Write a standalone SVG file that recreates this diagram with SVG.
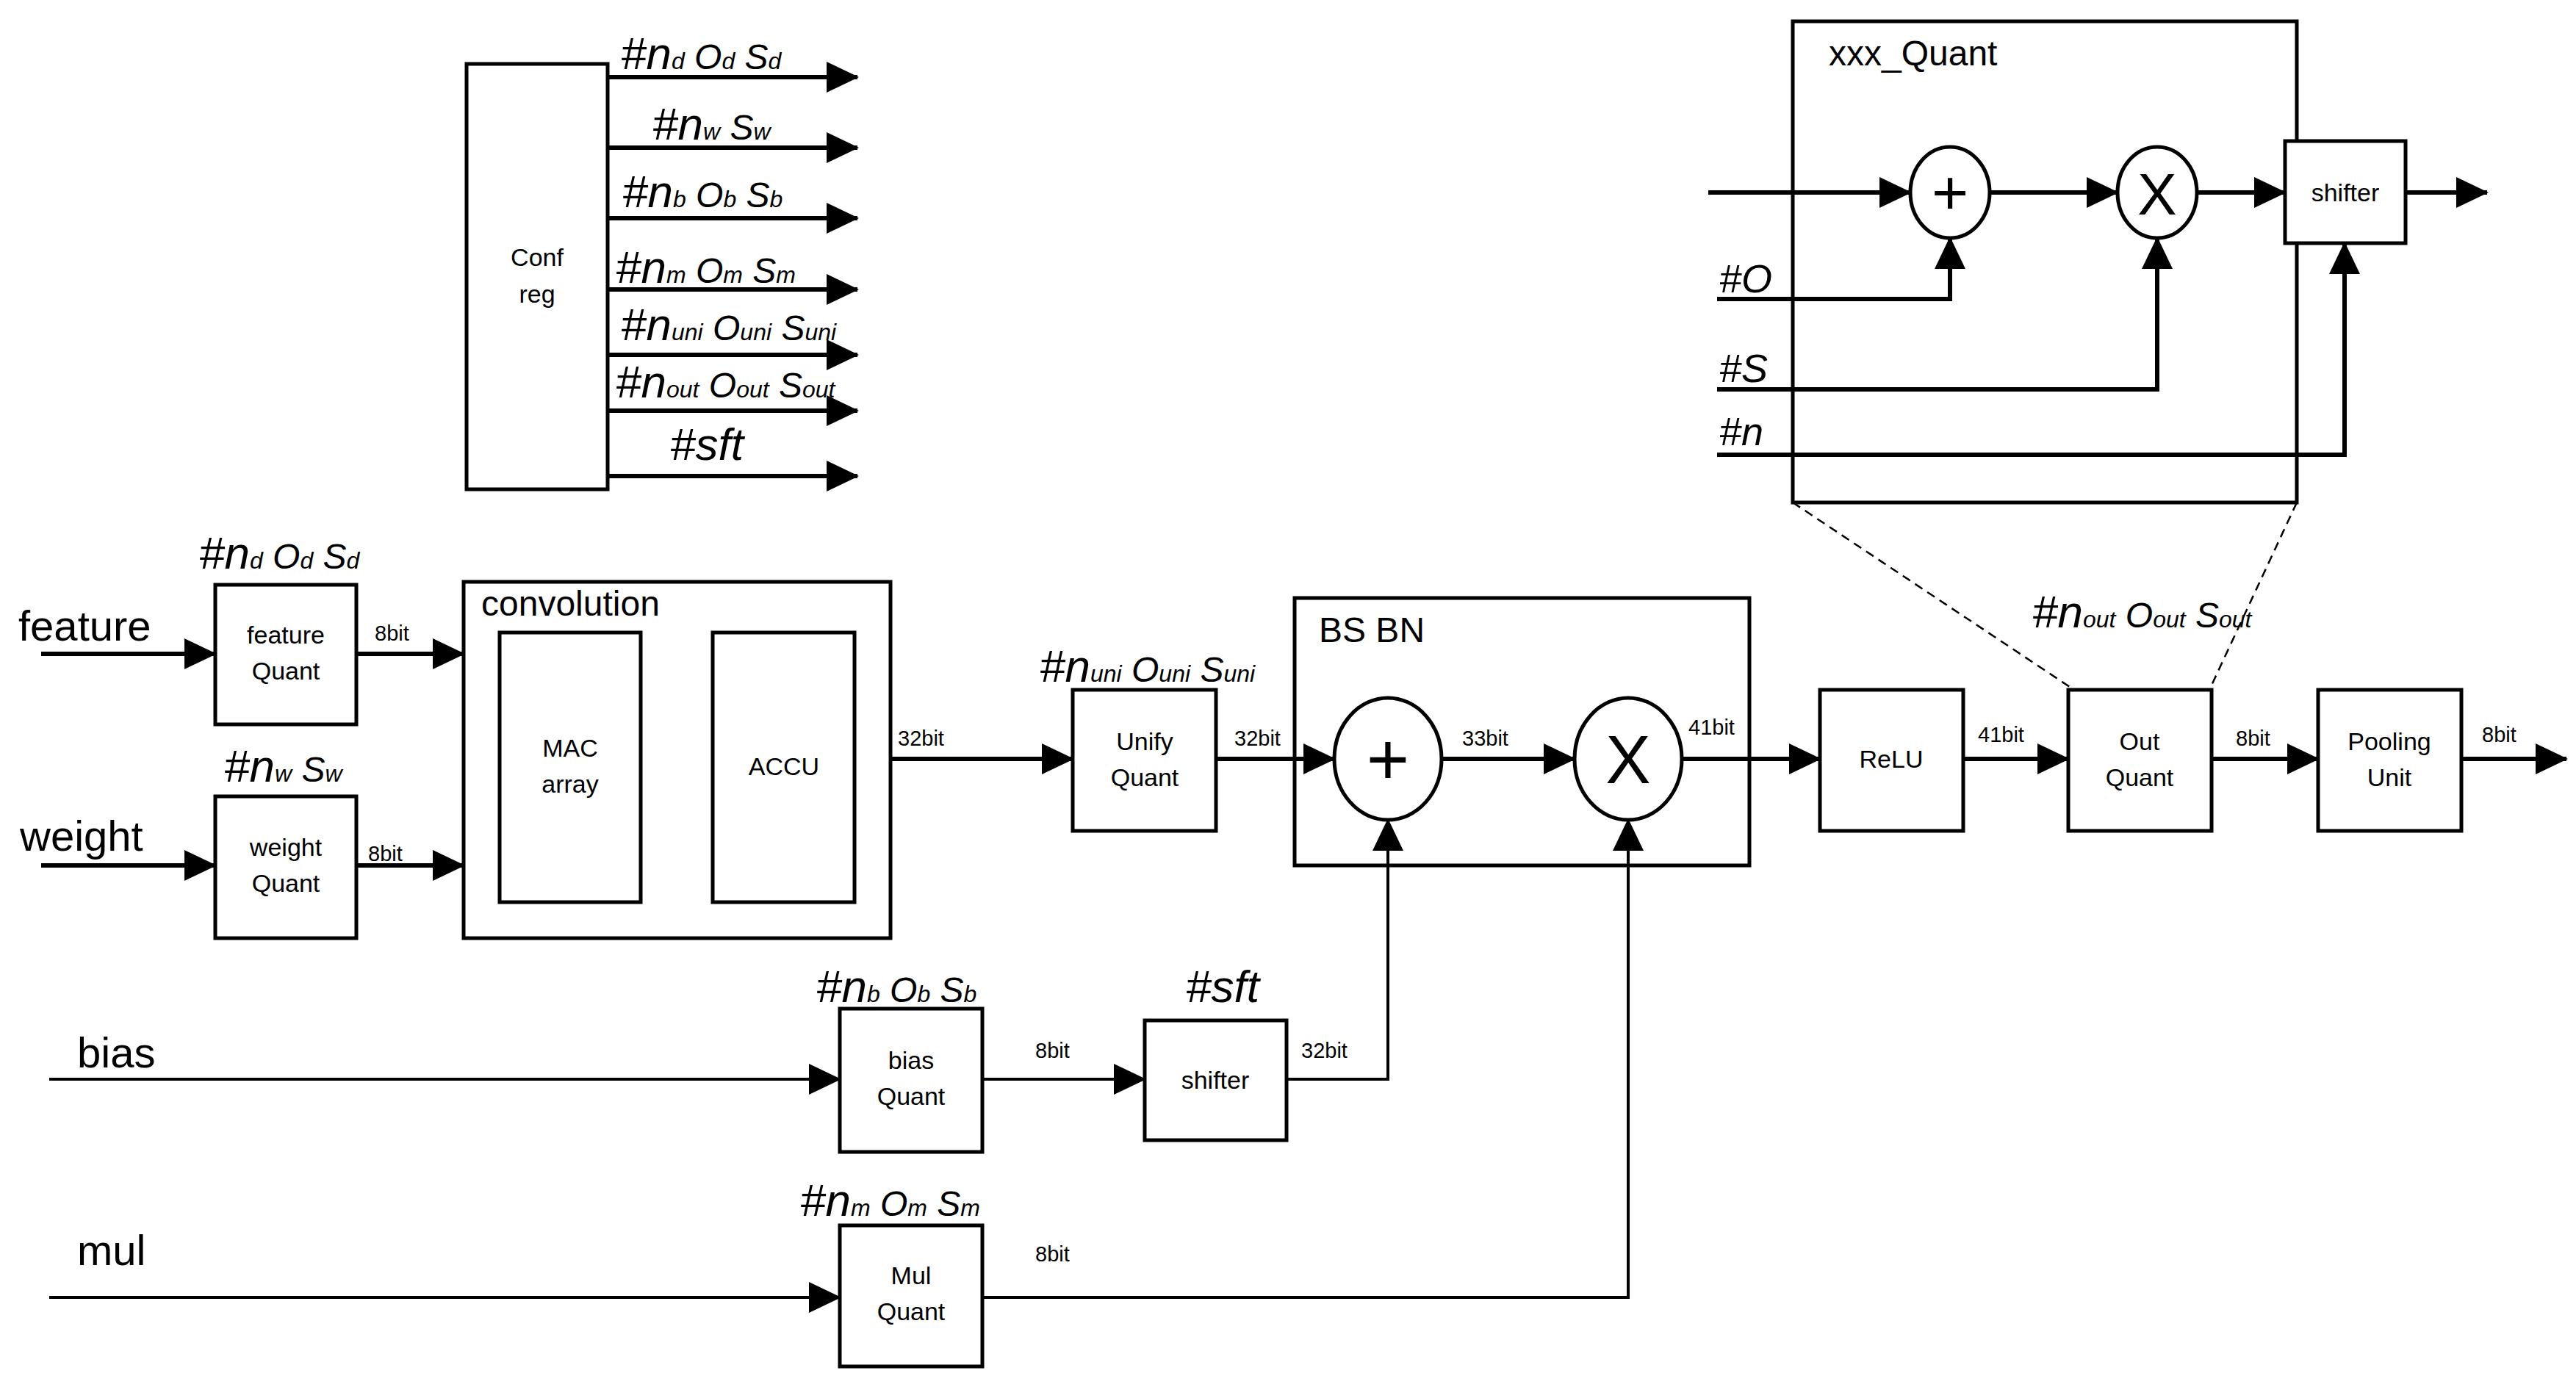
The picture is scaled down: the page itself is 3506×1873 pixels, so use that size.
<svg xmlns="http://www.w3.org/2000/svg" width="3506" height="1873" viewBox="0 0 3506 1873">
<style>
text{font-family:"Liberation Sans",Arial,sans-serif;fill:#000}
.box{fill:#fff;stroke:#000;stroke-width:5}
.frame{fill:none;stroke:#000;stroke-width:5}
.c{fill:none;stroke:#000;stroke-width:6}
.t{fill:none;stroke:#000;stroke-width:4}
.a{marker-end:url(#ah)}
.lab{font-style:italic}
.n{font-size:62px}.o{font-size:48px}.s{font-size:32px}
.m{font-size:34px;text-anchor:middle}
.bit{font-size:29px}
.big{font-size:58px}
.hd{font-size:48px}
</style>
<defs>
<marker id="ah" markerUnits="userSpaceOnUse" markerWidth="44" markerHeight="44" refX="42" refY="21" orient="auto" viewBox="0 0 44 42"><path d="M0,0 L44,21 L0,42 z" fill="#000"/></marker>
</defs>

<g id="bsbn">
<rect class="frame" x="1762" y="814" width="619" height="364"/>
<text class="hd" x="1795" y="874">BS BN</text>
</g>
<g id="xxxquant-frame">
<rect class="frame" x="2440" y="29" width="686" height="655"/>
<text class="hd" x="2489" y="89">xxx_Quant</text>
</g>

<g id="connectors">
<path class="c a" d="M827,105 H1167"/>
<path class="c a" d="M827,201 H1167"/>
<path class="c a" d="M827,297 H1167"/>
<path class="c a" d="M827,394 H1167"/>
<path class="c a" d="M827,483 H1167"/>
<path class="c a" d="M827,559 H1167"/>
<path class="c a" d="M827,648 H1167"/>
<path class="c a" d="M2325,262 H2600"/>
<path class="c a" d="M2708,262 H2882"/>
<path class="c a" d="M2990,262 H3110"/>
<path class="c a" d="M3274,262 H3385"/>
<path class="c a" d="M2337,407 H2654 V324"/>
<path class="c a" d="M2337,530 H2936 V324"/>
<path class="c a" d="M2337,619 H3191 V331"/>
<path d="M2440,684 L2820,937 M3126,684 L3008,937" fill="none" stroke="#000" stroke-width="2.5" stroke-dasharray="12,8"/>
<path class="c a" d="M56,890 H293"/>
<path class="c a" d="M56,1178 H293"/>
<path class="c a" d="M485,890 H631"/>
<path class="c a" d="M485,1178 H631"/>
<path class="c a" d="M1212,1033 H1460"/>
<path class="c a" d="M1655,1033 H1816"/>
<path class="c a" d="M1962,1033 H2143"/>
<path class="c a" d="M2289,1033 H2477"/>
<path class="c a" d="M2672,1033 H2815"/>
<path class="c a" d="M3010,1033 H3155"/>
<path class="c a" d="M3350,1033 H3493"/>
<path class="t a" d="M67,1469 H1143"/>
<path class="t a" d="M1337,1469 H1558"/>
<path class="t a" d="M1751,1469 H1889 V1116"/>
<path class="t a" d="M67,1766 H1143"/>
<path class="t a" d="M1337,1766 H2216 V1116"/>
</g>

<g id="confreg">
<rect class="box" x="635" y="87" width="192" height="579"/>
<text class="m" x="731" y="362">Conf</text>
<text class="m" x="731" y="412">reg</text>
</g>
<g id="conf-labels" class="lab">
<text x="845" y="94"><tspan class="n">#n</tspan><tspan class="s">d</tspan><tspan class="o"> O</tspan><tspan class="s">d</tspan><tspan class="o"> S</tspan><tspan class="s">d</tspan></text>
<text x="888" y="190"><tspan class="n">#n</tspan><tspan class="s">w</tspan><tspan class="o"> S</tspan><tspan class="s">w</tspan></text>
<text x="847" y="282"><tspan class="n">#n</tspan><tspan class="s">b</tspan><tspan class="o"> O</tspan><tspan class="s">b</tspan><tspan class="o"> S</tspan><tspan class="s">b</tspan></text>
<text x="838" y="385"><tspan class="n">#n</tspan><tspan class="s">m</tspan><tspan class="o"> O</tspan><tspan class="s">m</tspan><tspan class="o"> S</tspan><tspan class="s">m</tspan></text>
<text x="845" y="463"><tspan class="n">#n</tspan><tspan class="s">uni</tspan><tspan class="o"> O</tspan><tspan class="s">uni</tspan><tspan class="o"> S</tspan><tspan class="s">uni</tspan></text>
<text x="838" y="541"><tspan class="n">#n</tspan><tspan class="s">out</tspan><tspan class="o"> O</tspan><tspan class="s">out</tspan><tspan class="o"> S</tspan><tspan class="s">out</tspan></text>
<text x="912" y="626" class="n">#sft</text>
</g>

<g id="xxxquant">
<ellipse class="box" cx="2654" cy="262" rx="54" ry="62"/>
<text x="2654" y="292" font-size="86" text-anchor="middle">+</text>
<ellipse class="box" cx="2936" cy="262" rx="54" ry="62"/>
<text x="2936" y="292" font-size="80" text-anchor="middle">X</text>
<rect class="box" x="3110" y="192" width="164" height="139"/>
<text class="m" x="3192" y="274" font-size="32">shifter</text>
<text class="lab" x="2340" y="398" font-size="54">#O</text>
<text class="lab" x="2340" y="520" font-size="54">#S</text>
<text class="lab" x="2340" y="606" font-size="54">#n</text>
</g>

<text class="big" x="25" y="872">feature</text>
<text class="big" x="27" y="1158">weight</text>
<text class="big" x="105" y="1453">bias</text>
<text class="big" x="105" y="1722">mul</text>

<g id="featurequant">
<rect class="box" x="293" y="796" width="192" height="190"/>
<text class="m" x="389" y="876">feature</text>
<text class="m" x="389" y="925">Quant</text>
<text class="lab" x="271" y="774"><tspan class="n">#n</tspan><tspan class="s">d</tspan><tspan class="o"> O</tspan><tspan class="s">d</tspan><tspan class="o"> S</tspan><tspan class="s">d</tspan></text>
</g>
<g id="weightquant">
<rect class="box" x="293" y="1084" width="192" height="193"/>
<text class="m" x="389" y="1165">weight</text>
<text class="m" x="389" y="1214">Quant</text>
<text class="lab" x="305" y="1064"><tspan class="n">#n</tspan><tspan class="s">w</tspan><tspan class="o"> S</tspan><tspan class="s">w</tspan></text>
</g>
<text class="bit" x="510" y="872">8bit</text>
<text class="bit" x="501" y="1172">8bit</text>

<g id="convolution">
<rect class="box" x="631" y="792" width="581" height="485"/>
<text class="hd" x="655" y="838">convolution</text>
<rect class="box" x="680" y="861" width="192" height="367"/>
<text class="m" x="776" y="1030">MAC</text>
<text class="m" x="776" y="1079">array</text>
<rect class="box" x="970" y="861" width="193" height="367"/>
<text class="m" x="1067" y="1055">ACCU</text>
</g>
<text class="bit" x="1222" y="1015">32bit</text>

<g id="unifyquant">
<rect class="box" x="1460" y="939" width="195" height="192"/>
<text class="m" x="1558" y="1021">Unify</text>
<text class="m" x="1558" y="1070">Quant</text>
<text class="lab" x="1415" y="928"><tspan class="n">#n</tspan><tspan class="s">uni</tspan><tspan class="o"> O</tspan><tspan class="s">uni</tspan><tspan class="o"> S</tspan><tspan class="s">uni</tspan></text>
</g>
<text class="bit" x="1680" y="1015">32bit</text>

<g id="bsbn-ops">
<ellipse class="box" cx="1889" cy="1033" rx="73" ry="83"/>
<text x="1889" y="1068" font-size="100" text-anchor="middle">+</text>
<ellipse class="box" cx="2216" cy="1033" rx="73" ry="83"/>
<text x="2216" y="1066" font-size="92" text-anchor="middle">X</text>
</g>
<text class="bit" x="1990" y="1015">33bit</text>
<text class="bit" x="2298" y="1000">41bit</text>

<g id="relu">
<rect class="box" x="2477" y="939" width="195" height="192"/>
<text class="m" x="2574" y="1045">ReLU</text>
</g>
<text class="bit" x="2692" y="1010">41bit</text>

<g id="outquant">
<rect class="box" x="2815" y="939" width="195" height="192"/>
<text class="m" x="2912" y="1021">Out</text>
<text class="m" x="2912" y="1070">Quant</text>
<text class="lab" x="2766" y="854"><tspan class="n">#n</tspan><tspan class="s">out</tspan><tspan class="o"> O</tspan><tspan class="s">out</tspan><tspan class="o"> S</tspan><tspan class="s">out</tspan></text>
</g>
<text class="bit" x="3043" y="1015">8bit</text>

<g id="pooling">
<rect class="box" x="3155" y="939" width="195" height="192"/>
<text class="m" x="3252" y="1021">Pooling</text>
<text class="m" x="3252" y="1070">Unit</text>
</g>
<text class="bit" x="3378" y="1010">8bit</text>

<g id="biasquant">
<rect class="box" x="1143" y="1373" width="194" height="195"/>
<text class="m" x="1240" y="1455">bias</text>
<text class="m" x="1240" y="1504">Quant</text>
<text class="lab" x="1111" y="1364"><tspan class="n">#n</tspan><tspan class="s">b</tspan><tspan class="o"> O</tspan><tspan class="s">b</tspan><tspan class="o"> S</tspan><tspan class="s">b</tspan></text>
</g>
<text class="bit" x="1409" y="1440">8bit</text>

<g id="shifter">
<rect class="box" x="1558" y="1389" width="193" height="163"/>
<text class="m" x="1654" y="1482">shifter</text>
<text class="lab n" x="1614" y="1364">#sft</text>
</g>
<text class="bit" x="1771" y="1440">32bit</text>

<g id="mulquant">
<rect class="box" x="1143" y="1668" width="194" height="192"/>
<text class="m" x="1240" y="1748">Mul</text>
<text class="m" x="1240" y="1797">Quant</text>
<text class="lab" x="1089" y="1655"><tspan class="n">#n</tspan><tspan class="s">m</tspan><tspan class="o"> O</tspan><tspan class="s">m</tspan><tspan class="o"> S</tspan><tspan class="s">m</tspan></text>
</g>
<text class="bit" x="1409" y="1717">8bit</text>
</svg>
